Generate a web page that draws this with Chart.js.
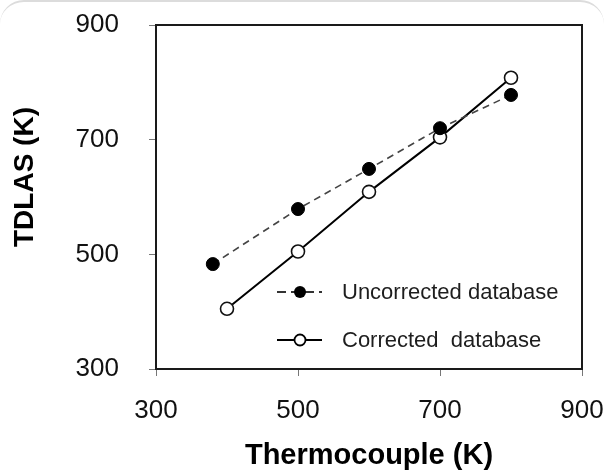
<!DOCTYPE html>
<html>
<head>
<meta charset="utf-8">
<script src="https://cdn.jsdelivr.net/npm/chart.js@4"></script>
<style>
  html, body { margin: 0; padding: 0; background: #fff; }
  body { width: 604px; height: 473px; position: relative; overflow: hidden; }
  #frame { position: absolute; left: 0; top: 0; width: 604px; height: 520px; border-top: 2px solid #dcdcdc; border-radius: 24px; box-sizing: border-box; pointer-events: none; }
  #wrap { position: absolute; left: 0; top: 0; width: 604px; height: 473px; }
</style>
</head>
<body>
<div id="wrap"><canvas id="c" width="604" height="473"></canvas></div>
<div id="frame"></div>
<script>
const uncorrectedX = [380, 500, 600, 700, 800];
const uncorrectedY = [483, 579, 649, 720, 778];
const correctedX = [400, 500, 600, 700, 800];
const correctedY = [405, 505, 609, 704, 808];
const axisTicks = [300, 500, 700, 900];
const seriesNames = ["Uncorrected database", "Corrected  database"];
const xTitle = "Thermocouple (K)";
const yTitle = "TDLAS (K)";

const FONT = '"Liberation Sans", Arial, sans-serif';

const toPts = (xs, ys) => xs.map((x, i) => ({ x: x, y: ys[i] }));

const boxPlugin = {
  id: 'boxPlugin',
  afterDatasetsDraw(chart) {
    const { ctx, chartArea: a } = chart;
    ctx.save();
    ctx.strokeStyle = '#1a1a1a';
    ctx.lineWidth = 2;
    ctx.strokeRect(a.left, a.top, a.right - a.left, a.bottom - a.top);

    // y axis title (placed slightly above centre, as in the reference)
    ctx.save();
    ctx.translate(a.left - 131, (a.top + a.bottom) / 2 - 20);
    ctx.rotate(-Math.PI / 2);
    ctx.font = 'bold 28px ' + FONT;
    ctx.fillStyle = '#000';
    ctx.textAlign = 'center';
    ctx.textBaseline = 'middle';
    ctx.fillText(yTitle, 0, 0);
    ctx.restore();

    // legend inside the plot area
    const lx0 = a.left + 121, lx1 = a.left + 166, cx = a.left + 144;
    const tx = a.left + 186;
    const rows = [a.top + 267, a.top + 315];
    ctx.font = '22px ' + FONT;
    ctx.textBaseline = 'middle';
    ctx.textAlign = 'left';
    // row 1: dashed with filled dot
    ctx.strokeStyle = '#333';
    ctx.lineWidth = 2;
    ctx.setLineDash([9, 5]);
    ctx.beginPath(); ctx.moveTo(lx0, rows[0]); ctx.lineTo(lx1, rows[0]); ctx.stroke();
    ctx.setLineDash([]);
    ctx.beginPath(); ctx.arc(cx, rows[0], 6, 0, Math.PI * 2); ctx.fillStyle = '#000'; ctx.fill();
    ctx.fillStyle = '#1e1e1e';
    ctx.fillText(seriesNames[0], tx, rows[0] + 1);
    // row 2: solid with open circle
    ctx.strokeStyle = '#000';
    ctx.lineWidth = 2;
    ctx.beginPath(); ctx.moveTo(lx0, rows[1]); ctx.lineTo(lx1, rows[1]); ctx.stroke();
    ctx.beginPath(); ctx.arc(cx, rows[1], 5.5, 0, Math.PI * 2); ctx.fillStyle = '#fff'; ctx.fill();
    ctx.lineWidth = 1.8; ctx.stroke();
    ctx.fillStyle = '#1e1e1e';
    ctx.fillText(seriesNames[1], tx, rows[1] + 1);
    ctx.restore();
  }
};

new Chart(document.getElementById('c'), {
  type: 'scatter',
  data: {
    datasets: [
      {
        label: seriesNames[0],
        data: toPts(uncorrectedX, uncorrectedY),
        showLine: true,
        borderColor: '#444',
        borderWidth: 1.6,
        borderDash: [7, 5],
        pointRadius: 6.5,
        pointBackgroundColor: '#000',
        pointBorderColor: '#000',
        pointBorderWidth: 1
      },
      {
        label: seriesNames[1],
        data: toPts(correctedX, correctedY),
        showLine: true,
        borderColor: '#000',
        borderWidth: 2,
        pointRadius: 6.5,
        pointBackgroundColor: '#fff',
        pointBorderColor: '#111',
        pointBorderWidth: 1.6
      }
    ]
  },
  options: {
    responsive: false,
    animation: false,
    layout: { padding: { left: 0, right: 22, top: 25, bottom: 0 } },
    plugins: { legend: { display: false }, tooltip: { enabled: false } },
    scales: {
      x: {
        type: 'linear',
        min: 300, max: 900,
        afterBuildTicks(s) { s.ticks = axisTicks.map(v => ({ value: v })); },
        afterFit(s) { s.height = 104; s.paddingLeft = 0; s.paddingRight = 0; },
        grid: { display: true, drawOnChartArea: false, drawTicks: true, tickLength: 7, color: '#777', lineWidth: 1 },
        border: { display: true, color: '#1a1a1a', width: 2 },
        ticks: { font: { family: FONT, size: 26 }, color: '#111', padding: 19, maxRotation: 0 },
        title: { display: true, text: xTitle, font: { family: FONT, size: 29, weight: 'bold' }, color: '#000', padding: { top: 0, bottom: 0 } }
      },
      y: {
        type: 'linear',
        min: 300, max: 900,
        afterBuildTicks(s) { s.ticks = axisTicks.map(v => ({ value: v })); },
        afterFit(s) { s.width = 156; s.paddingTop = 0; s.paddingBottom = 0; },
        grid: { display: true, drawOnChartArea: false, drawTicks: true, tickLength: 7, color: '#777', lineWidth: 1 },
        border: { display: true, color: '#1a1a1a', width: 2 },
        ticks: { font: { family: FONT, size: 26 }, color: '#111', padding: 30 },
        title: { display: false }
      }
    }
  },
  plugins: [boxPlugin]
});
</script>
</body>
</html>
